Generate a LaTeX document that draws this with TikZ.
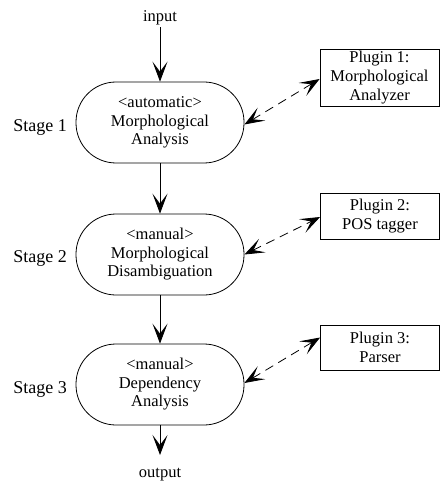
\documentclass[tikz,border=0pt]{standalone}
\usepackage{fontspec}
\setmainfont{Liberation Serif}
\usetikzlibrary{arrows.meta}
\begin{document}
\begin{tikzpicture}[x=1pt,y=-1pt,
  stagebox/.style={draw,line width=0.8pt,rounded corners=40pt,minimum width=168pt,minimum height=81pt,align=center,inner sep=0pt,font=\fontsize{16.5}{18.5}\selectfont},
  plugbox/.style={draw,line width=0.8pt,minimum width=119pt,align=center,inner sep=0pt,font=\fontsize{16.5}{19}\selectfont},
  stagelbl/.style={anchor=east,inner sep=0pt,font=\fontsize{18}{20}\selectfont},
  iolbl/.style={inner sep=2pt,font=\fontsize{16.5}{18}\selectfont},
  tip/.style={-{Stealth[length=20pt,width=15pt,inset=10pt]}},
  flow/.style={tip,line width=0.8pt},
  link/.style={{Stealth[length=20pt,width=15pt,inset=10pt]}-{Stealth[length=20pt,width=15pt,inset=10pt]},line width=0.8pt,dash pattern=on 9pt off 6pt}
]
\useasboundingbox (0,0) rectangle (440,489);
\node[stagebox] (s1) at (160,122.5) {<automatic>\\Morphological\\Analysis};
\node[stagebox] (s2) at (160,254.5) {<manual>\\Morphological\\Disambiguation};
\node[stagebox] (s3) at (160,384.5) {<manual>\\Dependency\\Analysis};
\node[stagelbl] (l1) at (67,127) {Stage 1};
\node[stagelbl] (l2) at (67,258) {Stage 2};
\node[stagelbl] (l3) at (67,389) {Stage 3};
\node[plugbox,minimum height=57pt] (p1) at (379.5,77.5) {Plugin 1:\\Morphological\\Analyzer};
\node[plugbox,minimum height=46pt] (p2) at (380,216) {Plugin 2:\\POS tagger};
\node[plugbox,minimum height=45pt] (p3) at (380,347.5) {Plugin 3:\\Parser};
\node[iolbl] (in) at (160,18) {input};
\node[iolbl] (out) at (160,475) {output};
\coordinate (outend) at (160,455);
\draw[flow] (in.south) -- (s1.north);
\draw[flow] (s1.south) -- (s2.north);
\draw[flow] (s2.south) -- (s3.north);
\draw[flow] (s3.south) -- (outend);
\draw[link] ([yshift=-2pt]s1.east) -- ([yshift=-1.5pt]p1.west);
\draw[link] (s2.east) -- ([yshift=-1pt]p2.west);
\draw[link] ([yshift=1.5pt]s3.east) -- ([yshift=10pt]p3.west);
\end{tikzpicture}
\end{document}
